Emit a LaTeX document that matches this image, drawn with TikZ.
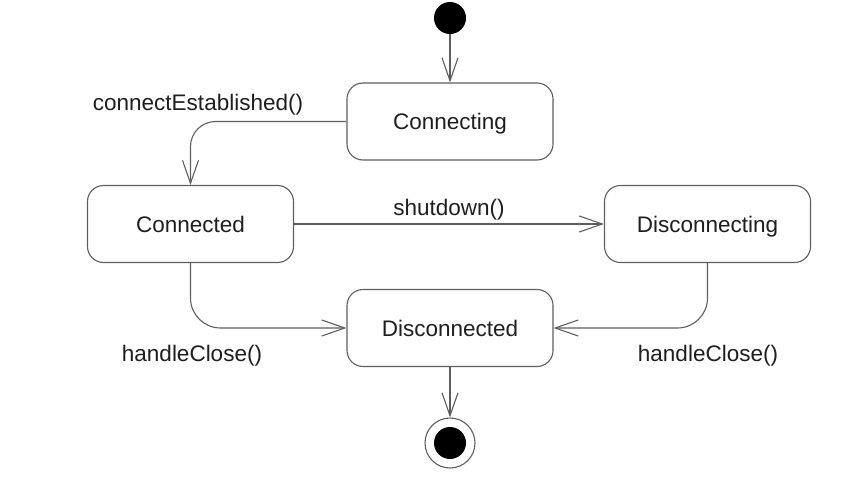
\documentclass[tikz,border=0pt]{standalone}
\usepackage{fontspec}
\setmainfont{Liberation Sans}
\usetikzlibrary{arrows.meta}
\definecolor{linegray}{HTML}{5E5E5E}
\definecolor{textgray}{HTML}{1E1E1E}
\begin{document}
\begin{tikzpicture}[x=1pt,y=-1pt,
  state/.style={draw=linegray, line width=1.1pt, rounded corners=16pt,
    minimum width=206pt, minimum height=77pt, inner sep=0pt,
    text height=16pt, text depth=0pt,
    font=\fontsize{22.5}{26}\selectfont, text=textgray},
  trans/.style={draw=linegray, line width=1.1pt,
    -{Straight Barb[length=23pt,width=16pt]}},
  lbl/.style={font=\fontsize{22.5}{26}\selectfont, text=textgray, inner sep=0pt,
    text height=16pt, text depth=0pt}]
  \useasboundingbox (0,0) rectangle (849,498);

  % pseudo-states
  \node[circle, fill=black, minimum size=32pt, inner sep=0pt] (init) at (450,18) {};
  \node[circle, draw=linegray, line width=1.1pt, minimum size=50pt, inner sep=0pt] (final) at (450,443) {};
  \node[circle, fill=black, minimum size=32pt, inner sep=0pt] (finaldot) at (final) {};

  % states
  \node[state] (connecting)    at (450,121.5) {Connecting};
  \node[state] (connected)     at (190.5,224) {Connected};
  \node[state] (disconnecting) at (707.5,224) {Disconnecting};
  \node[state] (disconnected)  at (450,328)   {Disconnected};

  % transitions
  \draw[trans] (init) -- (connecting.north);
  \draw[trans, rounded corners=25pt] (connecting.west) -| (connected.north);
  \draw[trans] (connected.east) -- (disconnecting.west);
  \draw[trans, rounded corners=30pt] (connected.south) |- (disconnected.west);
  \draw[trans, rounded corners=30pt] (disconnecting.south) |- (disconnected.east);
  \draw[trans] (disconnected.south) -- (final);

  % transition labels
  \node[lbl] (lblest)   at (198,102) {connectEstablished()};
  \node[lbl] (lblshut)  at (449,207) {shutdown()};
  \node[lbl] (lblcl)    at (192,353) {handleClose()};
  \node[lbl] (lblcr)    at (708,353) {handleClose()};
\end{tikzpicture}
\end{document}
